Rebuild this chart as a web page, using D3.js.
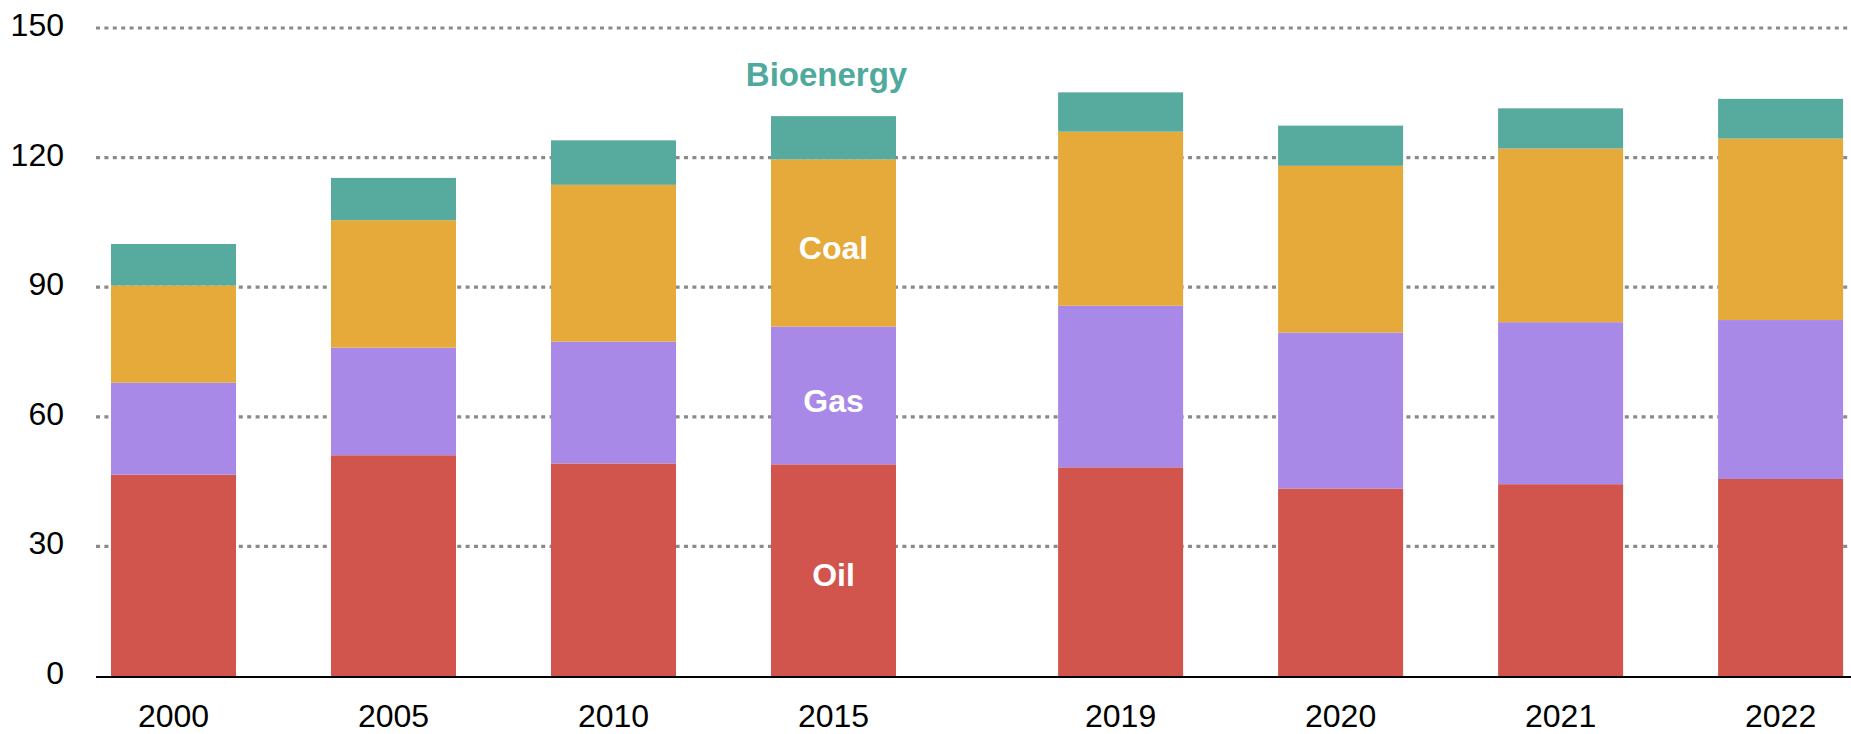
<!DOCTYPE html>
<html>
<head>
<meta charset="utf-8">
<script src="https://cdn.jsdelivr.net/npm/d3@7"></script>
<style>
  body { margin: 0; background: #fff; }
  text { font-family: "Liberation Sans", Arial, sans-serif; }
</style>
</head>
<body>
<div id="my_dataviz"></div>
<script>
// data
var years = ["2000", "2005", "2010", "2015", "2019", "2020", "2021", "2022"];
var fuels = ["Oil", "Gas", "Coal", "Bioenergy"];
var oil   = [46.6, 51.1, 49.2, 49.0, 48.3, 43.4, 44.4, 45.6];
var gas   = [21.3, 24.9, 28.2, 31.9, 37.4, 36.1, 37.5, 36.8];
var coal  = [22.5, 29.5, 36.3, 38.7, 40.3, 38.6, 40.2, 42.0];
var bio   = [9.6, 9.8, 10.3, 10.0, 9.1, 9.3, 9.3, 9.2];
var yTicks = [0, 30, 60, 90, 120, 150];
var labelYear = "2015";

var colors = {Oil: "#d1554c", Gas: "#a989e8", Coal: "#e5aa3a", Bioenergy: "#56aa9e"};

// set the dimensions and margins of the graph
var W = 1851, H = 734;
var margin = {top: 28, right: 0, bottom: 58, left: 96};
var barW = 125, step = 220, firstBar = 111, gap = 0.305;

var svg = d3.select("#my_dataviz")
    .append("svg")
    .attr("width", W)
    .attr("height", H);

// build table for the stack
var table = years.map(function(y, i) {
    return {year: y, Oil: oil[i], Gas: gas[i], Coal: coal[i], Bioenergy: bio[i]};
});
var series = d3.stack().keys(fuels)(table);

// slot index, with the wider break between 2015 and 2019
function slot(i) { return i + (i >= 4 ? gap : 0); }
var x = d3.scaleLinear()
    .domain([0, 1])
    .range([firstBar, firstBar + step]);
function barX(year) { return x(slot(years.indexOf(year))); }

var y = d3.scaleLinear()
    .domain([0, 150])
    .range([H - margin.bottom, margin.top]);

// dotted grid
svg.append("g")
    .selectAll("line")
    .data(yTicks.filter(function(d) { return d > 0; }))
    .enter()
    .append("line")
    .attr("x1", margin.left)
    .attr("x2", W)
    .attr("y1", function(d) { return y(d); })
    .attr("y2", function(d) { return y(d); })
    .style("stroke", "#8a8a8a")
    .style("stroke-width", 3.2)
    .style("stroke-dasharray", "4,4.4");

// y labels
svg.append("g")
    .selectAll("text")
    .data(yTicks)
    .enter()
    .append("text")
    .attr("x", 64)
    .attr("y", function(d) { return y(d) + 8; })
    .attr("text-anchor", "end")
    .style("font-size", "32px")
    .style("fill", "#000")
    .text(function(d) { return d; });

// the stacked bars
svg.append("g")
    .selectAll("g")
    .data(series)
    .enter()
    .append("g")
    .style("fill", function(d) { return colors[d.key]; })
    .selectAll("rect")
    .data(function(d) { return d; })
    .enter()
    .append("rect")
    .attr("x", function(d) { return barX(d.data.year); })
    .attr("y", function(d) { return y(d[1]); })
    .attr("width", barW)
    .attr("height", function(d) { return y(d[0]) - y(d[1]); });

// x axis line
svg.append("line")
    .attr("x1", margin.left)
    .attr("x2", W)
    .attr("y1", y(0) + 1)
    .attr("y2", y(0) + 1)
    .style("stroke", "#000")
    .style("stroke-width", 2);

// x labels
svg.append("g")
    .selectAll("text")
    .data(years)
    .enter()
    .append("text")
    .attr("x", function(d) { return barX(d) + barW / 2; })
    .attr("y", 727)
    .attr("text-anchor", "middle")
    .style("font-size", "32px")
    .style("fill", "#000")
    .text(function(d) { return d; });

// fuel labels on the 2015 bar
var li = years.indexOf(labelYear);
var cx = barX(labelYear) + barW / 2;
series.forEach(function(s) {
    var seg = s[li];
    if (s.key === "Bioenergy") {
        svg.append("text")
            .attr("x", cx - 7)
            .attr("y", y(seg[1]) - 30)
            .attr("text-anchor", "middle")
            .style("font-size", "33px")
            .style("font-weight", "bold")
            .style("fill", "#4fa99c")
            .text(s.key);
    } else {
        svg.append("text")
            .attr("x", cx)
            .attr("y", (y(seg[0]) + y(seg[1])) / 2 + 5)
            .attr("dy", "0.35em")
            .attr("text-anchor", "middle")
            .style("font-size", "32px")
            .style("font-weight", "bold")
            .style("fill", "#fff")
            .text(s.key);
    }
});
</script>
</body>
</html>
